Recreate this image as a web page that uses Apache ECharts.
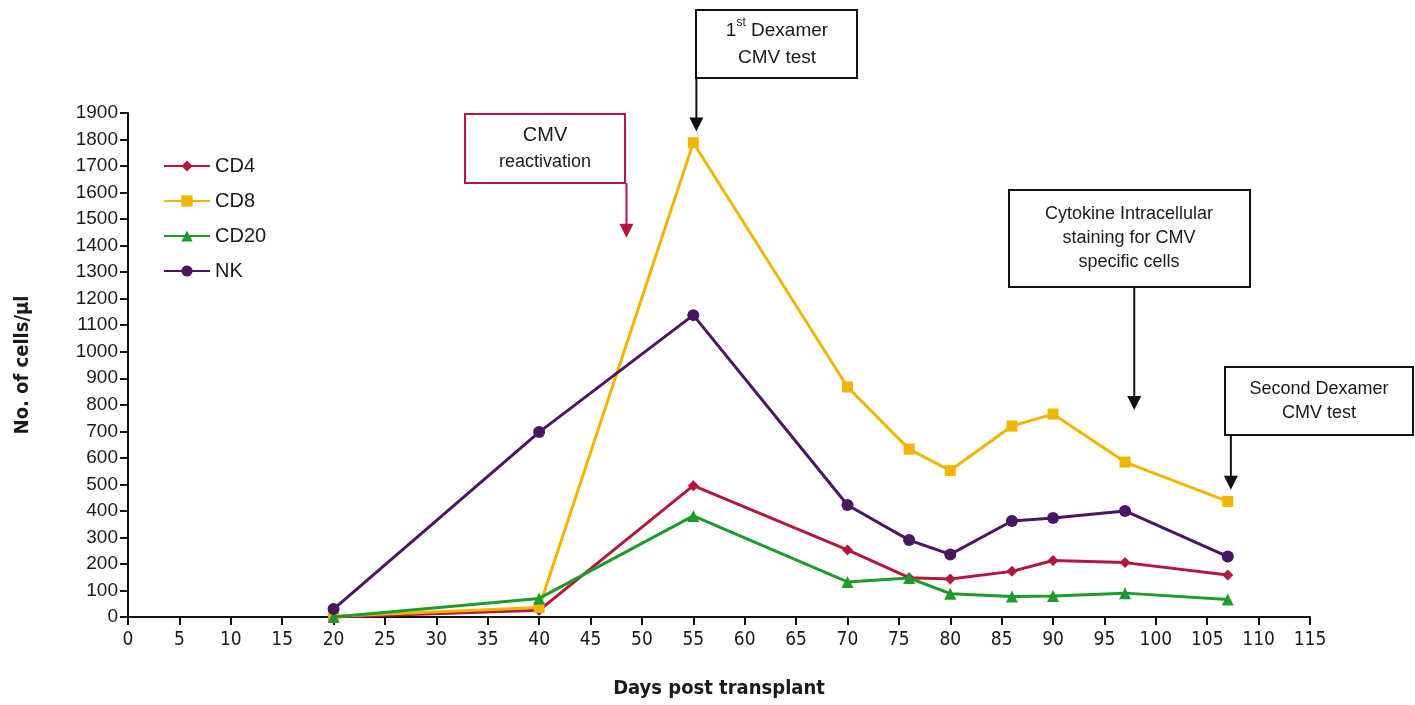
<!DOCTYPE html>
<html lang="en">
<head>
    <meta charset="UTF-8">
    <title>Cells after transplant</title>
    <script src="https://cdn.jsdelivr.net/npm/echarts@6/dist/echarts.min.js"></script>
    <style>
        html, body { margin: 0; padding: 0; background: #fff; }
        #main { width: 1415px; height: 705px; }
    </style>
</head>
<body>
<div id="main"></div>
<script>
    // data
    var days = [20, 40, 55, 70, 76, 80, 86, 90, 97, 107];
    var cd4  = [0, 25, 495, 253, 148, 143, 172, 213, 205, 158];
    var cd8  = [3, 36, 1788, 867, 633, 552, 720, 765, 584, 436];
    var cd20 = [0, 70, 381, 132, 147, 88, 77, 79, 90, 66];
    var nk   = [30, 697, 1138, 422, 290, 236, 362, 373, 400, 228];

    var seriesNames = ['CD4', 'CD8', 'CD20', 'NK'];
    var seriesColors = ['#b3173b', '#efb500', '#1e9b2c', '#4a1661'];
    var seriesSymbols = ['diamond', 'rect', 'triangle', 'circle'];
    var seriesSizes = [11, 11, 12, 12];

    function pairs(vals) {
        var out = [];
        for (var i = 0; i < days.length; i++) out.push([days[i], vals[i]]);
        return out;
    }

    var narrow = '"DejaVu Sans Condensed", "Liberation Sans Narrow", sans-serif';
    var sans = '"Liberation Sans", Arial, sans-serif';

    var myChart = echarts.init(document.getElementById('main'));

    var allVals = [cd4, cd8, cd20, nk];
    var series = [];
    for (var s = 0; s < seriesNames.length; s++) {
        series.push({
            name: seriesNames[s],
            type: 'line',
            data: pairs(allVals[s]),
            symbol: seriesSymbols[s],
            symbolSize: seriesSizes[s],
            showAllSymbol: true,
            lineStyle: { color: seriesColors[s], width: 3 },
            itemStyle: { color: seriesColors[s] },
            z: 2 + s
        });
    }

    var option = {
        animation: false,
        backgroundColor: '#fff',
        grid: { left: 128, right: 105, top: 113, bottom: 88 },
        legend: {
            orient: 'vertical',
            left: 158,
            top: 151,
            itemWidth: 46,
            itemHeight: 14,
            itemGap: 15,
            data: seriesNames,
            textStyle: { fontFamily: sans, fontSize: 20, color: '#1a1a1a' }
        },
        xAxis: {
            type: 'value',
            min: 0,
            max: 115,
            interval: 5,
            name: 'Days post transplant',
            nameLocation: 'middle',
            nameGap: 62,
            nameTextStyle: { fontFamily: narrow, fontSize: 20, fontWeight: 'bold', color: '#1a1a1a' },
            axisLine: { lineStyle: { color: '#111', width: 2 } },
            axisTick: { length: 8, lineStyle: { color: '#111', width: 2 } },
            axisLabel: { fontFamily: narrow, fontSize: 19, color: '#1a1a1a', margin: 14 },
            splitLine: { show: false }
        },
        yAxis: {
            type: 'value',
            min: 0,
            max: 1900,
            interval: 100,
            name: 'No. of cells/\u00b5l',
            nameLocation: 'middle',
            nameGap: 95,
            nameRotate: 90,
            nameTextStyle: { fontFamily: narrow, fontSize: 20, fontWeight: 'bold', color: '#1a1a1a' },
            axisLine: { show: true, lineStyle: { color: '#111', width: 2 } },
            axisTick: { show: true, length: 8, lineStyle: { color: '#111', width: 2 } },
            axisLabel: {
                fontFamily: sans, fontSize: 19, color: '#1a1a1a', margin: 10,
                formatter: function (v) { return String(v); }
            },
            splitLine: { show: false }
        },
        series: series
    };

    myChart.setOption(option);

    // annotation boxes with arrows
    function arrow(x, y1, y2, color) {
        return [
            { type: 'line', shape: { x1: x, y1: y1, x2: x, y2: y2 - 4 }, style: { stroke: color, lineWidth: 2 }, z: 20 },
            { type: 'polygon', shape: { points: [[x - 7, y2 - 14], [x + 7, y2 - 14], [x, y2]] }, style: { fill: color }, z: 20 }
        ];
    }
    function box(x, y, w, h, color) {
        return { type: 'rect', shape: { x: x, y: y, width: w, height: h }, style: { fill: '#fff', stroke: color, lineWidth: 2 }, z: 20 };
    }
    function label(cx, cy, txt, size) {
        return {
            type: 'text', x: cx, y: cy, z: 21,
            style: {
                text: txt, fontFamily: sans, fontSize: size, fill: '#1a1a1a',
                align: 'center', verticalAlign: 'middle', lineHeight: size + 6
            }
        };
    }

    var red = '#b3173b', black = '#111';
    var tip1 = myChart.convertToPixel({ gridIndex: 0 }, [48.5, 1430]);
    var tip2 = myChart.convertToPixel({ gridIndex: 0 }, [55.3, 1830]);
    var tip3 = myChart.convertToPixel({ gridIndex: 0 }, [97.9, 780]);
    var tip4 = myChart.convertToPixel({ gridIndex: 0 }, [107.3, 480]);

    var els = [];
    els.push(box(465, 114, 160, 69, red));
    els.push(label(545, 135, 'CMV', 20));
    els.push(label(545, 162, 'reactivation', 18));
    els = els.concat(arrow(tip1[0], 183, tip1[1], red));

    els.push(box(696, 10, 161, 68, black));
    els.push({
        type: 'text', x: 777, y: 44, z: 21,
        style: {
            text: '1{sup|st} Dexamer\nCMV test', fontFamily: sans, fontSize: 19, fill: '#1a1a1a',
            align: 'center', verticalAlign: 'middle', lineHeight: 27,
            rich: { sup: { fontFamily: sans, fontSize: 12, fill: '#1a1a1a', verticalAlign: 'top', lineHeight: 14, padding: [0, 0, 8, 0] } }
        }
    });
    els = els.concat(arrow(tip2[0], 78, tip2[1], black));

    els.push(box(1009, 190, 241, 97, black));
    els.push(label(1129, 238, 'Cytokine Intracellular\nstaining for CMV\nspecific cells', 18));
    els = els.concat(arrow(tip3[0], 287, tip3[1], black));

    els.push(box(1225, 367, 188, 68, black));
    els.push(label(1319, 401, 'Second Dexamer\nCMV test', 18));
    els = els.concat(arrow(tip4[0], 435, tip4[1], black));

    myChart.setOption({ graphic: els });
</script>
</body>
</html>
